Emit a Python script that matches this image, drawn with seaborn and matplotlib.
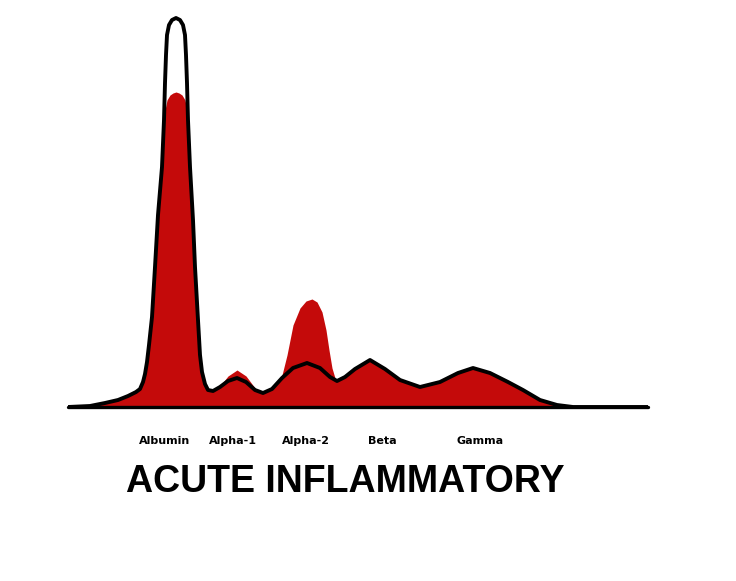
import numpy as np
import pandas as pd
import matplotlib
matplotlib.use("Agg")
import matplotlib.pyplot as plt
import seaborn as sns

# serum protein electrophoresis trace
# x = migration distance (mm), y = relative density
normal_x = [0, 2.2, 3.7, 5.0, 6.0, 6.8, 7.2, 7.5, 7.7, 7.9, 8.1, 8.4, 8.7, 9.0, 9.4, 9.6, 9.7, 9.8, 9.9,
            10.1, 10.4, 10.8, 11.2, 11.5, 11.7, 11.8, 11.9, 12.0, 12.2, 12.5, 12.7, 13.0, 13.2, 13.4,
            13.7, 14.0, 14.5, 15.2, 16.0, 16.9, 17.8, 18.7, 19.5, 20.4, 21.4, 22.5, 23.9, 25.2, 26.2,
            26.9, 27.7, 28.7, 30.2, 31.7, 33.2, 35.2, 37.2, 39.0, 40.5, 42.2, 44.0, 45.5, 47.2, 48.9,
            50.5, 58.0]
normal_y = [0, 0.25, 1, 1.75, 2.75, 3.75, 4.5, 6.25, 8.25, 11.25, 15.5, 22.5, 35, 48, 60, 71.75, 81, 88, 93,
            95.5, 96.75, 97.25, 96.75, 95.5, 93, 88, 81, 71.75, 60, 46.75, 35, 21.75, 13, 8.75,
            5.75, 4.25, 4, 5, 6.5, 7.25, 6.25, 4.25, 3.5, 4.5, 7.25, 9.75, 11, 9.75, 7.5,
            6.5, 7.5, 9.5, 11.75, 9.5, 6.75, 5, 6.25, 8.5, 9.75, 8.5, 6.25, 4.25, 1.75, 0.5,
            0, 0]

acute_x = [0, 2.2, 3.7, 5.0, 6.0, 6.8, 7.2, 7.5, 7.7, 7.9, 8.1, 8.4, 8.7, 9.0, 9.4, 9.6, 9.7, 9.9,
           10.2, 10.5, 10.8, 11.1, 11.4, 11.7, 11.9, 12.0, 12.2, 12.5, 12.7, 13.0, 13.2, 13.4,
           13.7, 14.0, 14.5, 15.2, 16.0, 16.9, 17.8, 18.7, 19.5, 20.2, 20.9, 21.4, 21.9, 22.5,
           23.2, 23.8, 24.4, 24.9, 25.4, 25.8, 26.1, 26.4, 26.7, 26.9, 27.7, 28.7, 30.2, 31.7,
           33.2, 35.2, 37.2, 39.0, 40.5, 42.2, 44.0, 45.5, 47.2, 48.9, 50.5, 58.0]
acute_y = [0, 0.25, 1, 1.75, 2.75, 3.75, 4.5, 6.25, 8.25, 11.25, 15.5, 22.5, 35, 48, 60, 71.75, 74.25, 76.75,
           78, 78.5, 78.75, 78.5, 78, 76.75, 74.25, 71.75, 60, 46.75, 35, 21.75, 13, 8.75,
           5.75, 4.25, 4, 5.25, 7.75, 9.25, 7.75, 4.75, 3.5, 4.25, 5.75, 8, 13, 20.5,
           24.75, 26.5, 27, 26.25, 23.75, 19.25, 14.25, 9.75, 7.25, 6.5, 7.5, 9.5, 11.75, 9.5,
           6.75, 5, 6.25, 8.5, 9.75, 8.5, 6.25, 4.25, 1.75, 0.5, 0, 0]

fractions = ["Albumin", "Alpha-1", "Alpha-2", "Beta", "Gamma"]
fraction_pos = [9.7, 16.5, 23.8, 31.4, 41.2]

title = "ACUTE INFLAMMATORY"

normal = pd.DataFrame({"x": normal_x, "y": normal_y})
acute = pd.DataFrame({"x": acute_x, "y": acute_y})

sns.set_style("white")
plt.rcParams["font.family"] = ["Liberation Sans", "DejaVu Sans"]
plt.rcParams["text.color"] = "black"
plt.rcParams["xtick.color"] = "black"

fig = plt.figure(figsize=(7.36, 5.81), dpi=100)
ax = fig.add_axes([68 / 736, 174 / 581, 580 / 736, 407 / 581])

red = "#c40a0a"
ax.fill_between(acute["x"], 0, acute["y"], color=red, linewidth=0)
sns.lineplot(data=normal, x="x", y="y", ax=ax, color="black", linewidth=2.8,
             sort=False, solid_joinstyle="round")
ax.axhline(0, color="black", linewidth=2.4, clip_on=False)

ax.set_xlim(0, 58)
ax.set_ylim(0, 407 / 4)
ax.set_xticks(fraction_pos)
ax.set_xticklabels(fractions, fontsize=8, fontweight="bold", family="DejaVu Sans")
ax.tick_params(axis="x", length=0, pad=21)
ax.set_yticks([])
ax.set_xlabel("")
ax.set_ylabel("")
for s in ax.spines.values():
    s.set_visible(False)

fig.text(345 / 736, 1 - 482 / 581, title, ha="center", va="center",
         fontsize=27, fontweight="bold")

fig.savefig("out.png", dpi=100)
